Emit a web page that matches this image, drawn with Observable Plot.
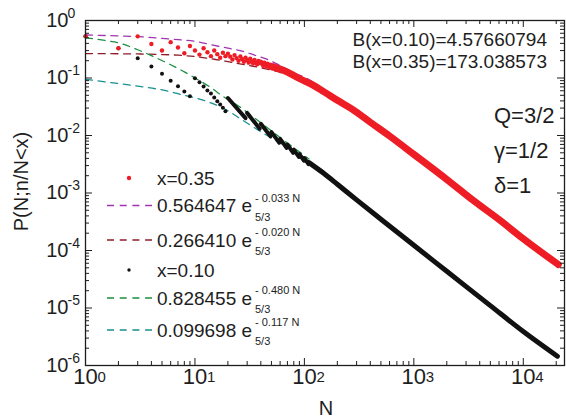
<!DOCTYPE html>
<html><head><meta charset="utf-8">
<script src="https://cdn.jsdelivr.net/npm/d3@7"></script>
<script src="https://cdn.jsdelivr.net/npm/@observablehq/plot@0.6"></script>
<style>body{margin:0;background:#fff}svg{display:block}</style>
</head><body><div id="chart"></div>
<script>
const FONT = "'Liberation Sans', Arial, Helvetica, sans-serif";

// ---- x = 0.35 (red) : individual points
const redN = [1,2,3,4,5,6,7,8,9,10,11,12,13,14,15,16,17,18,19,20,21,22,23,24,25,26,27,28,29,30,31,32,33,34,35,36,37,38,39,40,41,42,43,44,45,46,47,48,49,50,51,52,53,54,55,56,57,58,59,60];
const redP = [0.53,0.33,0.53,0.39,0.30,0.42,0.34,0.27,0.36,0.30,0.255,0.33,0.28,0.24,0.30,0.26,0.225,0.275,0.24,0.265,0.235,0.21,0.25,0.222,0.20,0.237,0.212,0.192,0.226,0.204,0.185,0.216,0.196,0.179,0.207,0.189,0.173,0.198,0.182,0.193,0.177,0.163,0.185,0.171,0.158,0.178,0.165,0.153,0.171,0.159,0.148,0.165,0.154,0.143,0.159,0.148,0.139,0.153,0.143,0.15];
// dense band of x = 0.35 points
const redBandN = [50,60,75,90,120,150,200,275,400,600,1000,2000,3500,6000,10000,20900];
const redBandP = [0.158,0.143,0.118,0.098,0.075,0.058,0.041,0.0285,0.017,0.0098,0.0047,0.00172,0.00074,0.000345,0.00016,0.000057];

// ---- x = 0.10 (black) : individual points
const blackN = [1,2,3,4,5,6,7,8,9,10,11,12,13,14,15,16,17,18,19];
const blackP = [0.53,0.33,0.22,0.158,0.118,0.09,0.072,0.058,0.048,0.099,0.0845,0.071,0.0606,0.054,0.046,0.0395,0.0346,0.0303,0.0265];
// runs of merged points (start N/P -> end N/P)
const blackRunN1 = [20,30,40,50,60,70,80,90,100];
const blackRunP1 = [0.0449,0.0247,0.016,0.01147,0.00873,0.00692,0.00567,0.00475,0.00406];
const blackRunN2 = [29,39,49,59,69,79,89,99,109];
const blackRunP2 = [0.02,0.0131,0.00966,0.00749,0.00606,0.005,0.00423,0.00364,0.00319];
// dense band of x = 0.10 points
const blackBandN = [110,150,200,300,500,1000,2000,5000,10000,20500];
const blackBandP = [0.00338,0.0022,0.00142,0.00076,0.00035,0.000123,0.0000435,0.000011,0.0000039,0.00000145];

// ---- fitted curves (dashed)
const purpleN = [1,2,3,5,7,10,15,20,26,35,46,60,79,106,143,184,250,336];
const purpleP = [0.56,0.54,0.525,0.49,0.465,0.435,0.37,0.33,0.30,0.25,0.21,0.165,0.125,0.098,0.068,0.05,0.034,0.0244];
const brownN = [1,2,3,5,7,10,15,20,25,34,50,70];
const brownP = [0.266,0.264,0.262,0.256,0.249,0.236,0.212,0.193,0.178,0.16,0.137,0.115];
const greenN = [1,1.5,2,3,4,6,8,10,14,18,26,34,44,56,70,90,110];
const greenP = [0.5,0.45,0.41,0.31,0.245,0.17,0.128,0.1,0.068,0.048,0.031,0.021,0.0145,0.0102,0.0074,0.0052,0.0039];
const tealN = [1,2,3,5,8,11,15,20,25,32,42,50,67,90,120,150];
const tealP = [0.095,0.08,0.072,0.062,0.05,0.043,0.035,0.027,0.0205,0.0152,0.011,0.0091,0.0066,0.0047,0.0032,0.0024];

// ---- ticks and texts
const xTickVals = [1,10,100,1000,10000];
const xTickExp = ["0","1","2","3","4"];
const yTickVals = [1e-6,1e-5,1e-4,1e-3,1e-2,1e-1,1];
const yTickExp = ["-6","-5","-4","-3","-2","-1","0"];
const legendLabels = ["x=0.35","0.564647 e","0.266410 e","x=0.10","0.828455 e","0.099698 e"];
const legendSup = ["","- 0.033 N","- 0.020 N","","- 0.480 N","- 0.117 N"];
const legendSub = ["","5/3","5/3","","5/3","5/3"];
const infoLines = ["B(x=0.10)=4.57660794","B(x=0.35)=173.038573"];
const paramLines = ["Q=3/2","\u03b3=1/2","\u03b4=1"];

const C = {red:"#ee1d25", purple:"#a035b0", brown:"#8e1c28", black:"#111111", green:"#1b8f3f", teal:"#17908f", ink:"#1e1e1e"};
const legendColors = [C.red,C.purple,C.brown,C.black,C.green,C.teal];
const legendKinds = ["dot","line","line","dot","line","line"];

const W = 566, H = 419, mL = 85, mR = 2, mT = 20, mB = 54;
const pH = H - mT - mB, pW = W - mL - mR;

const xMinor = [];
for (let e = 0; e <= 4; e++) for (let k = 2; k <= 9; k++) { const v = k * 10 ** e; if (v <= 23800) xMinor.push(v); }
const yMinor = [];
for (let e = -6; e <= -1; e++) for (let k = 2; k <= 9; k++) yMinor.push(k * 10 ** e);

const dash = "7,5.7";

function annotations(index, scales, values, dims) {
  const g = d3.create("svg:g").attr("font-family", FONT).attr("fill", C.ink).attr("text-anchor", "start");
  const rowsY = [178, 205.5, 240, 270, 298, 330];
  legendKinds.forEach((kind, i) => {
    const y = rowsY[i];
    if (kind === "dot") {
      g.append("circle").attr("cx", 129).attr("cy", y).attr("r", i === 0 ? 2.2 : 1.7).attr("fill", legendColors[i]);
    } else {
      g.append("line").attr("x1", 107).attr("x2", 152).attr("y1", y).attr("y2", y)
        .attr("stroke", legendColors[i]).attr("stroke-width", 1.3).attr("stroke-dasharray", dash);
    }
    g.append("text").attr("x", 157).attr("y", y + 6.8).attr("font-size", 19).text(legendLabels[i]);
    if (legendSup[i]) {
      g.append("text").attr("x", 255).attr("y", y - 4).attr("font-size", 11).text(legendSup[i]);
      g.append("text").attr("x", 255).attr("y", y + 15).attr("font-size", 11).text(legendSub[i]);
    }
  });
  infoLines.forEach((t, i) => {
    g.append("text").attr("x", 547).attr("y", 45.7 + i * 22.6).attr("text-anchor", "end").attr("font-size", 19).text(t);
  });
  [122.7, 157.7, 193].forEach((by, i) => {
    g.append("text").attr("x", 494).attr("y", by).attr("font-size", 22).text(paramLines[i]);
  });
  g.append("text").attr("transform", "translate(28,181.5) rotate(-90)").attr("text-anchor", "middle")
    .attr("font-size", 20).text("P(N;n/N<x)");
  g.append("text").attr("x", 326).attr("y", 415).attr("text-anchor", "middle").attr("font-size", 20).text("N");
  return g.node();
}

const chart = Plot.plot({
  width: W, height: H,
  marginLeft: mL, marginRight: mR, marginTop: mT, marginBottom: mB,
  style: {fontFamily: FONT, background: "#fff", overflow: "visible"},
  x: {type: "log", domain: [1, 23800], axis: null},
  y: {type: "log", domain: [1e-6, 1], axis: null},
  marks: [
    Plot.line(purpleN, {x: purpleN, y: purpleP, stroke: C.purple, strokeWidth: 1.3, strokeDasharray: dash, curve: "monotone-x"}),
    Plot.line(brownN, {x: brownN, y: brownP, stroke: C.brown, strokeWidth: 1.3, strokeDasharray: dash, curve: "monotone-x"}),
    Plot.line(greenN, {x: greenN, y: greenP, stroke: C.green, strokeWidth: 1.3, strokeDasharray: dash, curve: "monotone-x"}),
    Plot.line(tealN, {x: tealN, y: tealP, stroke: C.teal, strokeWidth: 1.3, strokeDasharray: dash, curve: "monotone-x"}),
    Plot.line(blackBandN, {x: blackBandN, y: blackBandP, stroke: C.black, strokeWidth: 5, curve: "monotone-x", strokeLinecap: "round"}),
    Plot.link(blackRunN1, {x1: blackRunN1, y1: blackRunP1, x2: blackRunN2, y2: blackRunP2, stroke: C.black, strokeWidth: 4, strokeLinecap: "round"}),
    Plot.dot(blackN, {x: blackN, y: blackP, r: 2, fill: C.black}),
    Plot.line(redBandN, {x: redBandN, y: redBandP, stroke: C.red, strokeWidth: 7, curve: "monotone-x", strokeLinecap: "round"}),
    Plot.dot(redN, {x: redN, y: redP, r: 2.2, fill: C.red}),
    Plot.frame({stroke: C.ink, strokeWidth: 1.3}),
    Plot.tickX(xTickVals, {x: d => d, insetTop: pH - 7, stroke: C.ink}),
    Plot.tickX(xTickVals, {x: d => d, insetBottom: pH - 7, stroke: C.ink}),
    Plot.tickX(xMinor, {x: d => d, insetTop: pH - 4, stroke: C.ink}),
    Plot.tickX(xMinor, {x: d => d, insetBottom: pH - 4, stroke: C.ink}),
    Plot.tickY(yTickVals, {y: d => d, insetRight: pW - 7, stroke: C.ink}),
    Plot.tickY(yTickVals, {y: d => d, insetLeft: pW - 7, stroke: C.ink}),
    Plot.tickY(yMinor, {y: d => d, insetRight: pW - 4, stroke: C.ink}),
    Plot.tickY(yMinor, {y: d => d, insetLeft: pW - 4, stroke: C.ink}),
    Plot.text(xTickVals, {x: d => d, frameAnchor: "bottom", dy: 18, text: () => "10", fontSize: 22, fill: C.ink}),
    Plot.text(xTickVals, {x: d => d, frameAnchor: "bottom", dx: 12, dy: 16, text: (d, i) => xTickExp[i], textAnchor: "start", fontSize: 15, fill: C.ink}),
    Plot.text(yTickVals, {y: d => d, frameAnchor: "left", dx: -17, text: () => "10", textAnchor: "end", fontSize: 20, fill: C.ink}),
    Plot.text(yTickVals, {y: d => d, frameAnchor: "left", dx: -18, dy: -7, text: (d, i) => yTickExp[i], textAnchor: "start", fontSize: 14, fill: C.ink}),
    annotations
  ]
});
document.getElementById("chart").appendChild(chart);
</script>
</body></html>
